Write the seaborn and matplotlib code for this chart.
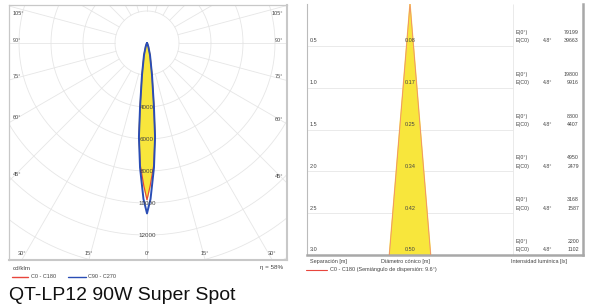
"""Polar light distribution + cone diagram for QT-LP12 90W Super Spot."""
import numpy as np
import matplotlib
matplotlib.use("Agg")
import matplotlib.pyplot as plt
import pandas as pd
import seaborn as sns

# --- polar curve (cd/klm), half-curve from 0 deg (down) outward ---
angles_deg = [0, 1.3, 3.2, 4.9, 6.2, 8.9, 14, 20, 30, 90]
c0_c180 = [9800, 8900, 7600, 5850, 4000, 2000, 770, 240, 60, 0]
c90_c270 = [10650, 9750, 7800, 5900, 4020, 2020, 780, 250, 60, 0]
ring_values = [2000, 4000, 6000, 8000, 10000, 12000, 14000, 16000, 18000]
ring_labels = [4000, 6000, 8000, 10000, 12000]
side_angles = [45, 60, 75, 90, 105]
bottom_angles = [30, 15, 0]
efficiency = "η = 58%"

# --- cone diagram ---
dist_m = [0.5, 1.0, 1.5, 2.0, 2.5, 3.0]
diam_m = [0.08, 0.17, 0.25, 0.34, 0.42, 0.50]
e_center = [79199, 19800, 8800, 4950, 3168, 2200]
e_half = [39663, 9916, 4407, 2479, 1587, 1102]
half_angle = 4.8

YELLOW = "#f8e63c"
BLUE = "#2a4db5"
RED = "#e8453c"
GRID = "#e6e6e6"
TXT = "#444444"

sns.set_theme(style="white")
plt.rcParams["font.family"] = ["Liberation Sans", "DejaVu Sans"]

W, H = 600, 307
fig = plt.figure(figsize=(W / 100, H / 100), dpi=100)


def fx(px):
    return px / W


def fy(py):
    return 1 - py / H


def curve(ang, cd):
    a = np.asarray(ang, float)
    r = np.asarray(cd, float)
    th = np.radians(np.r_[-a[::-1], a[1:]])
    rr = np.r_[r[::-1], r[1:]]
    return pd.DataFrame({"x": rr * np.sin(th), "y": -rr * np.cos(th)})


# ================= left: polar diagram =================
ax = fig.add_axes([fx(9), fy(260), fx(278), 255 / H])
xlim = (-8625, 8750)
ylim = (-13560, 2375)

t = np.linspace(0, 2 * np.pi, 400)
for r in ring_values:
    ax.plot(r * np.cos(t), r * np.sin(t), color=GRID, lw=0.6, zorder=1)
for a in range(0, 360, 15):
    th = np.radians(a)
    r0 = 0 if a == 0 else ring_values[0]
    ax.plot([r0 * np.sin(th), 20000 * np.sin(th)],
            [-r0 * np.cos(th), -20000 * np.cos(th)],
            color=GRID, lw=0.6, zorder=1)

d0 = curve(angles_deg, c0_c180)
d90 = curve(angles_deg, c90_c270)
ax.fill(d0["x"], d0["y"], color=YELLOW, zorder=2)
sns.lineplot(data=d0, x="x", y="y", sort=False, estimator=None,
             color=RED, lw=0.8, ax=ax, zorder=3)
sns.lineplot(data=d90, x="x", y="y", sort=False, estimator=None,
             color=BLUE, lw=1.4, ax=ax, zorder=4)

for r in ring_labels:
    ax.text(0, -r, f"{r}", fontsize=4.5, color=TXT, ha="center",
            va="center", zorder=5)

for a in side_angles:
    th = np.radians(a)
    for side in (-1, 1):
        xe = (xlim[0] + 250) if side < 0 else (xlim[1] - 250)
        ye = -abs(xe) * np.cos(th) / np.sin(th)
        ye = min(ye, ylim[1] - 700)
        ax.text(xe, ye, f"{a}°", fontsize=4, color=TXT,
                ha="left" if side < 0 else "right", va="bottom")
for a in bottom_angles:
    sides = (0,) if a == 0 else (-1, 1)
    for side in sides:
        xb = side * abs(ylim[0]) * np.tan(np.radians(a))
        ax.text(xb, ylim[0] + 250, f"{a}°", fontsize=4, color=TXT,
                ha="center", va="bottom")

ax.set_xlim(*xlim)
ax.set_ylim(*ylim)
ax.set_xticks([])
ax.set_yticks([])
ax.set_xlabel("")
ax.set_ylabel("")
for s in ax.spines.values():
    s.set_color("#c8c8c8")
    s.set_linewidth(0.9)
ax.spines["bottom"].set_linewidth(1.5)
ax.spines["right"].set_linewidth(1.5)

fig.text(fx(13), fy(268), "cd/klm", fontsize=4.5, color=TXT, va="center")
fig.text(fx(283), fy(268), efficiency, fontsize=4.5, color=TXT,
         ha="right", va="center")
fig.add_artist(plt.Line2D([fx(12), fx(28)], [fy(277), fy(277)],
                          color=RED, lw=1))
fig.text(fx(31), fy(277), "C0 - C180", fontsize=4, color=TXT, va="center")
fig.add_artist(plt.Line2D([fx(68), fx(86)], [fy(277), fy(277)],
                          color=BLUE, lw=1))
fig.text(fx(88), fy(277), "C90 - C270", fontsize=4, color=TXT, va="center")

fig.text(fx(9), fy(295), "QT-LP12 90W Super Spot", fontsize=14,
         color="#111111", va="center")

# ================= right: cone diagram =================
bx = fig.add_axes([fx(307), fy(255), fx(276), 251 / H])
cx_px, sx = 410, 82.0
x_left = (307 - cx_px) / sx
x_right = (583 - cx_px) / sx
x_col = (513 - cx_px) / sx

bx.hlines(dist_m[:-1], x_left, x_col, color=GRID, lw=0.6, zorder=1)
bx.vlines(x_col, 0, dist_m[-1], color=GRID, lw=0.6, zorder=1)

hw = dist_m[-1] * np.tan(np.radians(half_angle))
cone = pd.DataFrame({"x": [-hw, 0, hw], "y": [dist_m[-1], 0, dist_m[-1]]})
bx.fill(cone["x"], cone["y"], color=YELLOW, zorder=2)
sns.lineplot(data=cone, x="x", y="y", sort=False, estimator=None,
             color="#f08a70", lw=0.6, ax=bx, zorder=3)

for d, dm, e0, eh in zip(dist_m, diam_m, e_center, e_half):
    yl = d - 0.06
    bx.text(x_left + 0.03, yl, f"{d:.1f}", fontsize=4, color=TXT,
            ha="left", va="center")
    bx.text(0, yl, f"{dm:.2f}", fontsize=4, color=TXT, ha="center",
            va="center", zorder=4)
    bx.text((516 - cx_px) / sx, yl - 0.1, "E(0°)", fontsize=3.8,
            color=TXT, ha="left", va="center")
    bx.text((516 - cx_px) / sx, yl, "E(C0)", fontsize=3.8, color=TXT,
            ha="left", va="center")
    bx.text((548 - cx_px) / sx, yl, f"{half_angle}°", fontsize=3.8,
            color=TXT, ha="center", va="center")
    bx.text((579 - cx_px) / sx, yl - 0.1, f"{e0}", fontsize=3.8,
            color=TXT, ha="right", va="center")
    bx.text((579 - cx_px) / sx, yl, f"{eh}", fontsize=3.8, color=TXT,
            ha="right", va="center")

bx.set_xlim(x_left, x_right)
bx.set_ylim(dist_m[-1], 0)
bx.set_xticks([])
bx.set_yticks([])
bx.set_xlabel("")
bx.set_ylabel("")
bx.spines["top"].set_visible(False)
bx.spines["left"].set_color("#bbbbbb")
bx.spines["left"].set_linewidth(0.8)
for s in ("bottom", "right"):
    bx.spines[s].set_color("#a8a8a8")
    bx.spines[s].set_linewidth(1.8)

fig.text(fx(310), fy(262), "Separación [m]", fontsize=4, color=TXT,
         va="center")
fig.text(fx(381), fy(262), "Diámetro cónico [m]", fontsize=4, color=TXT,
         va="center")
fig.text(fx(511), fy(262), "Intensidad lumínica [lx]", fontsize=4,
         color=TXT, va="center")
fig.add_artist(plt.Line2D([fx(306), fx(327)], [fy(270), fy(270)],
                          color=RED, lw=0.8))
fig.text(fx(330), fy(270),
         f"C0 - C180 (Semiángulo de dispersión: {2 * half_angle:.1f}°)",
         fontsize=4, color=TXT, va="center")

fig.savefig("out.png", dpi=100)
